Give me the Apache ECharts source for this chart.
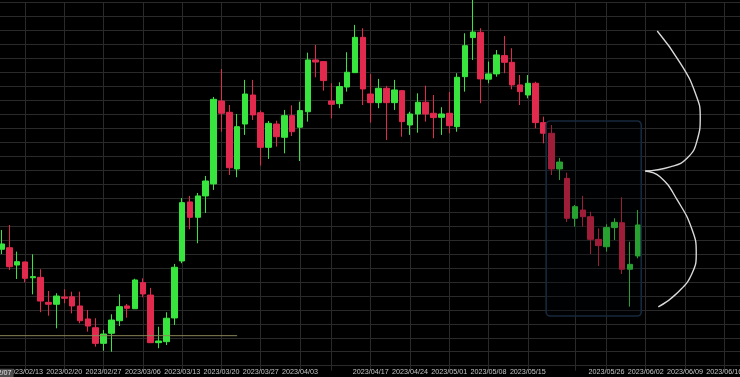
<!DOCTYPE html>
<html><head><meta charset="utf-8">
<script src="https://cdn.jsdelivr.net/npm/echarts@6/dist/echarts.min.js"></script>
<style>html,body{margin:0;padding:0;background:#000;}#c{width:740px;height:377px;}</style>
</head><body><div id="c"></div>
<script>
const dates = [
 '2023/02/07','2023/02/08','2023/02/09','2023/02/10','2023/02/13','2023/02/14','2023/02/15','2023/02/16','2023/02/17',
 '2023/02/20','2023/02/21','2023/02/22','2023/02/23','2023/02/24','2023/02/27','2023/02/28',
 '2023/03/01','2023/03/02','2023/03/03','2023/03/06','2023/03/07','2023/03/08','2023/03/09','2023/03/10',
 '2023/03/13','2023/03/14','2023/03/15','2023/03/16','2023/03/17','2023/03/20','2023/03/21','2023/03/22','2023/03/23','2023/03/24',
 '2023/03/27','2023/03/28','2023/03/29','2023/03/30','2023/03/31',
 '2023/04/03','2023/04/04','2023/04/05','2023/04/06','2023/04/10','2023/04/11','2023/04/12','2023/04/13','2023/04/14',
 '2023/04/17','2023/04/18','2023/04/19','2023/04/20','2023/04/21','2023/04/24','2023/04/25','2023/04/26','2023/04/27','2023/04/28',
 '2023/05/01','2023/05/02','2023/05/03','2023/05/04','2023/05/05','2023/05/08','2023/05/09','2023/05/10','2023/05/11','2023/05/12',
 '2023/05/15','2023/05/16','2023/05/17','2023/05/18','2023/05/19','2023/05/20','2023/05/22','2023/05/23','2023/05/24','2023/05/25','2023/05/26',
 '2023/05/29','2023/05/30','2023/05/31','2023/06/01','2023/06/02',
 '2023/06/05','2023/06/06','2023/06/07','2023/06/08','2023/06/09','2023/06/12','2023/06/13','2023/06/14','2023/06/15','2023/06/16',
 '2023/06/19','2023/06/20'
];
const opens = [null,
 8.34,8.45,7.21,7.43,6.30,6.33,4.54,4.40,4.92,4.94,4.28,3.35,2.72,1.60,2.32,3.22,4.28,4.08,5.95,5.06,
 1.65,1.72,3.42,7.50,11.73,10.63,12.16,13.02,18.96,18.15,14.09,17.31,19.39,18.12,15.64,17.31,16.36,17.91,17.08,18.19,
 21.90,21.78,18.96,18.77,19.96,20.99,23.52,19.46,18.84,19.87,18.84,19.70,17.24,18.03,18.87,18.08,17.79,18.08,17.12,20.70,
 23.50,23.88,20.52,20.90,22.21,21.73,20.11,19.39,20.23,17.41,16.65,14.09,13.42,10.56,11.15,10.67,9.05,8.52,9.89,10.24,
 6.91,7.86];
const closes = [null,
 8.72,7.09,7.45,6.26,6.38,4.63,4.40,4.99,4.83,4.28,3.22,2.84,1.60,2.27,3.27,4.23,4.11,6.14,5.14,1.65,
 1.77,3.40,7.05,11.68,10.63,12.16,13.23,19.08,18.08,14.18,17.12,19.46,17.96,15.64,17.36,16.40,17.91,16.76,18.27,21.90,
 21.75,20.42,18.72,19.99,21.02,23.52,19.82,18.84,19.87,18.84,19.75,17.48,18.03,18.87,18.03,17.77,18.03,17.19,20.66,22.92,
 23.90,20.54,20.90,22.26,21.73,20.11,19.63,20.23,17.41,16.65,14.09,14.59,10.56,11.39,10.67,9.05,8.60,9.89,10.27,6.91,
 7.26,10.08];
const lows = [null,
 8.00,6.86,6.21,5.97,5.11,3.83,3.58,2.68,4.47,3.75,3.04,2.44,1.36,1.07,1.00,2.84,3.44,4.08,4.90,1.62,
 1.25,1.48,2.92,7.34,9.77,8.77,10.94,12.59,16.76,13.66,13.50,16.53,17.60,14.33,14.81,15.69,15.21,16.45,14.66,17.48,
 20.66,19.70,17.72,18.44,19.63,20.97,18.67,17.41,18.44,16.17,18.32,16.40,16.53,16.69,17.48,16.29,16.53,16.65,16.76,19.63,
 21.90,18.80,20.23,20.70,20.95,19.80,18.67,19.15,17.01,15.93,13.66,13.30,10.29,9.96,9.96,8.00,7.14,8.17,9.00,6.57,
 4.23,7.69];
const highs = [null,
 9.72,10.08,8.17,7.45,7.98,6.91,5.35,5.19,5.47,5.30,5.30,3.99,3.40,2.56,3.68,5.11,4.42,6.23,6.26,5.57,
 2.79,3.83,7.29,12.01,12.16,12.37,13.59,19.25,21.25,18.67,18.03,20.47,20.47,18.27,17.53,17.55,18.32,18.65,18.91,22.42,
 22.97,21.80,20.23,20.30,22.45,24.41,24.17,20.90,20.54,20.04,20.47,19.75,18.19,19.51,20.06,19.39,18.51,19.61,20.95,23.81,
 26.20,24.17,21.78,22.61,23.62,22.74,20.82,20.82,20.34,17.84,17.24,14.88,13.83,11.51,12.16,11.03,9.84,10.13,10.56,12.06,
 8.88,11.15];
const labelDates = ['2023/02/13','2023/02/20','2023/02/27','2023/03/06','2023/03/13','2023/03/20','2023/03/27',
 '2023/04/03','2023/04/17','2023/04/24','2023/05/01','2023/05/08','2023/05/15','2023/05/26','2023/06/02','2023/06/09','2023/06/16'];
const highlightedDate = '2023/02/07';
const extraGridDates = ['2023/02/07','2023/04/10','2023/05/22'];
const baseLineX = [0, 31];
const baseLineY = [2.15, 2.15];
const boxCorners = [70.33, 17.53, 82.43, 3.56];
const braceUpperX = [84.47, 87.40, 89.31, 89.94, 89.56, 88.29, 86.12, 82.94];
const braceUpperY = [23.97, 21.68, 19.53, 17.82, 16.17, 14.88, 14.24, 13.95];
const braceLowerX = [82.94, 84.85, 87.01, 88.92, 89.43, 88.92, 87.01, 84.60];
const braceLowerY = [13.95, 13.52, 11.87, 9.72, 8.07, 6.64, 5.21, 4.21];

const UP = '#38e53f', DOWN = '#e2294e', GRID = '#2a2a2a';
const FONT = "'Liberation Sans', Arial, sans-serif";
const candleData = dates.map((d, i) => opens[i] == null || i >= opens.length ? '-' : [opens[i], closes[i], lows[i], highs[i]]);
const zip = (xs, ys) => xs.map((x, i) => [x, ys[i]]);
const isLabel = (idx, val) => labelDates.indexOf(val) >= 0;
const isGrid = (idx, val) => labelDates.indexOf(val) >= 0 || extraGridDates.indexOf(val) >= 0;

const chart = echarts.init(document.getElementById('c'), null, {renderer: 'canvas'});
chart.setOption({
  backgroundColor: '#000',
  animation: false,
  grid: {left: -6.41, right: 0, top: 2.7, bottom: 11.3, containLabel: false, outerBoundsMode: 'none'},
  xAxis: [{
    type: 'category', data: dates, boundaryGap: false,
    axisLine: {show: true, lineStyle: {color: GRID}},
    axisTick: {show: true, length: 5, interval: isGrid, lineStyle: {color: GRID}},
    axisLabel: {interval: isLabel, margin: 3, color: '#c4c4c4', fontSize: 7.2, hideOverlap: false,
      showMinLabel: true, showMaxLabel: true, fontFamily: FONT},
    splitLine: {show: true, interval: isGrid, lineStyle: {color: GRID, width: 1}}
  }, {
    type: 'value', min: 0, max: dates.length - 1, show: false, splitLine: {show: false}
  }, {
    type: 'category', data: dates, boundaryGap: false, z: 6, position: 'bottom',
    axisLine: {show: false}, axisTick: {show: false}, splitLine: {show: false},
    axisLabel: {interval: (idx, val) => val === highlightedDate, margin: 3, color: '#e6e6e6', fontSize: 7.2,
      backgroundColor: '#4b4b4b', padding: [1, 2], showMinLabel: true, fontFamily: FONT}
  }],
  yAxis: {
    type: 'value', min: 0, max: 26, interval: 1,
    axisLabel: {show: false}, axisLine: {show: false}, axisTick: {show: false},
    splitLine: {show: true, lineStyle: {color: GRID, width: 1}}
  },
  series: [{
    type: 'candlestick', xAxisIndex: 0, data: candleData, barWidth: 6, clip: false, z: 2,
    itemStyle: {color: UP, color0: DOWN, borderColor: UP, borderColor0: DOWN, borderWidth: 1}
  }, {
    type: 'line', xAxisIndex: 1, data: zip(baseLineX, baseLineY), symbol: 'none', z: 3,
    lineStyle: {color: '#8a8757', width: 1}
  }, {
    type: 'custom', xAxisIndex: 1, data: [boxCorners], z: 4,
    encode: {x: [0, 2], y: [1, 3]},
    renderItem: (params, api) => {
      const p1 = api.coord([api.value(0), api.value(1)]);
      const p2 = api.coord([api.value(2), api.value(3)]);
      return {type: 'rect', shape: {x: p1[0], y: p1[1], width: p2[0] - p1[0], height: p2[1] - p1[1], r: 4},
        style: {fill: 'rgba(0,4,10,0.3)', stroke: '#16293d', lineWidth: 1.6}};
    }
  }, {
    type: 'line', xAxisIndex: 1, data: zip(braceUpperX, braceUpperY), symbol: 'none', smooth: 0.5, z: 5,
    lineStyle: {color: '#d8d8d8', width: 1.4}
  }, {
    type: 'line', xAxisIndex: 1, data: zip(braceLowerX, braceLowerY), symbol: 'none', smooth: 0.5, z: 5,
    lineStyle: {color: '#d8d8d8', width: 1.4}
  }]
});
</script></body></html>
